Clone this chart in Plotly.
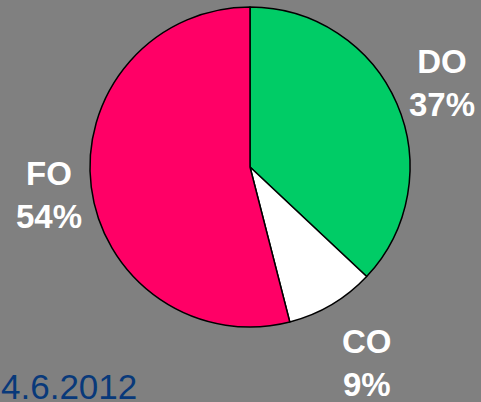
import plotly.graph_objects as go

labels = ["DO", "CO", "FO"]
values = [37, 9, 54]
colors = ["#00CC66", "#FFFFFF", "#FF0066"]
date_label = "4.6.2012"

W, H = 481, 402
# label block centres in pixels (x, y from top)
label_pos = {"DO": (442, 83), "CO": (367, 363), "FO": (49, 195)}

fig = go.Figure(go.Pie(
    labels=labels, values=values, sort=False, direction="clockwise", rotation=0,
    marker=dict(colors=colors, line=dict(color="black", width=1.5)),
    textinfo="none", hoverinfo="label+percent", showlegend=False,
    domain=dict(x=[90 / W, 410 / W], y=[(H - 327) / H, (H - 7) / H]),
))

total = sum(values)
annotations = []
for lab, val in zip(labels, values):
    px, py = label_pos[lab]
    annotations.append(dict(
        text=f"<b>{lab}<br>{round(val / total * 100)}%</b>",
        x=px / W, y=1 - py / H, xref="paper", yref="paper",
        xanchor="center", yanchor="middle", showarrow=False,
        font=dict(family="Liberation Sans, Arial", size=33, color="white"),
    ))
annotations.append(dict(
    text=date_label, x=0, y=1 - 386 / H, xref="paper", yref="paper",
    xanchor="left", yanchor="middle", showarrow=False, borderpad=0,
    font=dict(family="Liberation Sans, Arial", size=35, color="#08397A"),
))

fig.update_layout(
    width=W, height=H, margin=dict(l=0, r=0, t=0, b=0),
    paper_bgcolor="#808080", plot_bgcolor="#808080",
    annotations=annotations,
)
fig.write_html(
    "out.html",
    config={"displayModeBar": False},
    post_script="document.body.style.margin='0';document.body.style.overflow='hidden';",
)
